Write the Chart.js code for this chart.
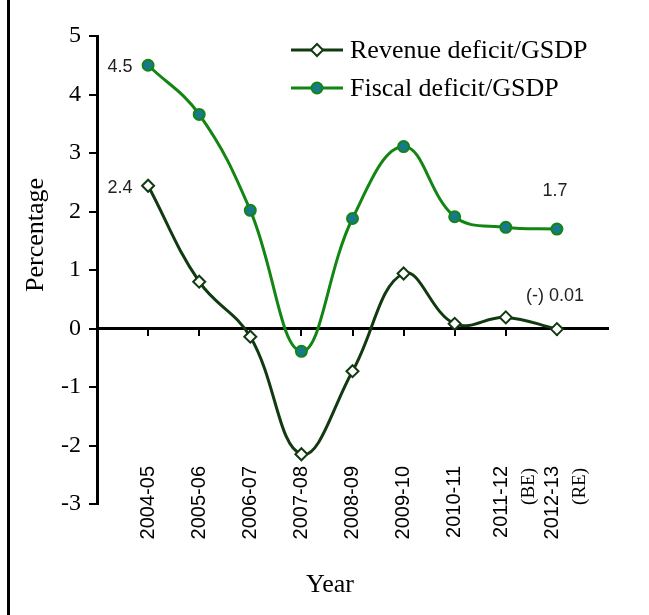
<!DOCTYPE html>
<html lang="en">
<head>
    <meta charset="UTF-8">
    <title>Revenue and Fiscal Deficit as Percentage of GSDP</title>
    <script src="https://cdn.jsdelivr.net/npm/chart.js@4.4.1/dist/chart.umd.min.js"></script>
    <style>
        html, body { margin: 0; padding: 0; background: #fff; }
        #wrap { width: 649px; height: 615px; }
    </style>
</head>
<body>

<div id="wrap">
    <canvas id="myChart" width="649" height="615" role="img" aria-label="Revenue and fiscal deficit as percentage of GSDP"></canvas>
</div>

<script>
    // data
    var years = ['2004-05', '2005-06', '2006-07', '2007-08', '2008-09', '2009-10', '2010-11', '2011-12', '2012-13'];
    var yearNotes = ['', '', '', '', '', '', '', '(BE)', '(RE)'];
    var revenueDeficit = [2.44, 0.80, -0.14, -2.15, -0.73, 0.94, 0.08, 0.19, -0.01];
    var fiscalDeficit = [4.50, 3.66, 2.02, -0.39, 1.88, 3.11, 1.91, 1.73, 1.70];
    var revenueNotes = ['2.4', '', '', '', '', '', '', '', '(-) 0.01'];
    var fiscalNotes = ['4.5', '', '', '', '', '', '', '', '1.7'];
    var yMin = -3, yMax = 5;

    var revColor = '#113a11';
    var fisColor = '#138513';
    var fisFill = '#17798a';

    function toPoints(arr) {
        return arr.map(function (v, i) { return { x: i, y: v }; });
    }

    var extras = {
        id: 'extras',
        afterDraw: function (chart) {
            var ctx = chart.ctx;
            var xs = chart.scales.x;
            ctx.save();

            // left frame line
            ctx.fillStyle = '#000';
            ctx.fillRect(7, 0, 3, 615);

            // axis titles
            ctx.fillStyle = '#000';
            ctx.font = '26px "Liberation Serif"';
            ctx.textAlign = 'center';
            ctx.textBaseline = 'middle';
            ctx.fillText('Year', 330, 585);
            ctx.save();
            ctx.translate(36, 235);
            ctx.rotate(-Math.PI / 2);
            ctx.fillText('Percentage', 0, 0);
            ctx.restore();

            // category labels, rotated
            for (var i = 0; i < years.length; i++) {
                var px = xs.getPixelForValue(i);
                var shift = yearNotes[i] ? -4 : 0;
                ctx.save();
                ctx.translate(px + shift, 466);
                ctx.rotate(-Math.PI / 2);
                ctx.textAlign = 'right';
                ctx.textBaseline = 'middle';
                ctx.font = '20px "Liberation Sans"';
                ctx.fillText(years[i], 0, 0);
                if (yearNotes[i]) {
                    ctx.font = '19px "Liberation Serif"';
                    ctx.fillText(yearNotes[i], -2, 27);
                }
                ctx.restore();
            }

            // value notes
            ctx.font = '18px "Liberation Sans"';
            ctx.fillStyle = '#222';
            ctx.textAlign = 'center';
            ctx.textBaseline = 'middle';
            [[0, revenueNotes], [1, fiscalNotes]].forEach(function (pair) {
                var meta = chart.getDatasetMeta(pair[0]);
                pair[1].forEach(function (txt, j) {
                    if (!txt) return;
                    var el = meta.data[j];
                    if (j === 0) {
                        ctx.fillText(txt, el.x - 28, el.y + 2);
                    } else {
                        ctx.fillText(txt, el.x - 2, el.y - (pair[0] === 0 ? 33 : 38));
                    }
                });
            });

            // legend
            var items = [
                { label: 'Revenue deficit/GSDP', ds: chart.data.datasets[0], y: 50 },
                { label: 'Fiscal deficit/GSDP', ds: chart.data.datasets[1], y: 88 }
            ];
            items.forEach(function (it) {
                ctx.strokeStyle = it.ds.borderColor;
                ctx.lineWidth = 3;
                ctx.beginPath();
                ctx.moveTo(291, it.y);
                ctx.lineTo(343, it.y);
                ctx.stroke();
                ctx.fillStyle = it.ds.pointBackgroundColor;
                ctx.strokeStyle = it.ds.pointBorderColor;
                ctx.lineWidth = it.ds.pointBorderWidth;
                Chart.helpers.drawPoint(ctx, {
                    pointStyle: it.ds.pointStyle,
                    radius: it.ds.pointRadius,
                    borderWidth: it.ds.pointBorderWidth,
                    rotation: 0
                }, 317, it.y);
                ctx.fillStyle = '#000';
                ctx.font = '26px "Liberation Serif"';
                ctx.textAlign = 'left';
                ctx.textBaseline = 'middle';
                ctx.fillText(it.label, 350, it.y + 1);
            });

            ctx.restore();
        }
    };

    var ctx = document.getElementById('myChart').getContext('2d');
    var myChart = new Chart(ctx, {
        type: 'line',
        data: {
            datasets: [
                {
                    label: 'Revenue deficit/GSDP',
                    data: toPoints(revenueDeficit),
                    borderColor: revColor,
                    borderWidth: 3,
                    tension: 0.4,
                    pointStyle: 'rectRot',
                    pointRadius: 6,
                    pointBorderWidth: 2,
                    pointBackgroundColor: '#ffffff',
                    pointBorderColor: revColor
                },
                {
                    label: 'Fiscal deficit/GSDP',
                    data: toPoints(fiscalDeficit),
                    borderColor: fisColor,
                    borderWidth: 3,
                    tension: 0.4,
                    pointStyle: 'circle',
                    pointRadius: 5.5,
                    pointBorderWidth: 2,
                    pointBackgroundColor: fisFill,
                    pointBorderColor: fisColor
                }
            ]
        },
        options: {
            responsive: false,
            animation: false,
            devicePixelRatio: 1,
            layout: { padding: { left: 0, top: 36, right: 41, bottom: 111 } },
            plugins: {
                legend: { display: false },
                tooltip: { enabled: false }
            },
            scales: {
                x: {
                    type: 'linear',
                    position: { y: 0 },
                    min: -1,
                    max: years.length,
                    ticks: { display: false, stepSize: 1 },
                    border: { display: true, color: '#000', width: 3 },
                    grid: {
                        drawOnChartArea: false,
                        drawTicks: true,
                        tickLength: 6,
                        lineWidth: 2,
                        color: function (c) {
                            var v = c.tick ? c.tick.value : 0;
                            return (v < 0 || v >= years.length) ? 'rgba(0,0,0,0)' : '#000';
                        }
                    }
                },
                y: {
                    min: yMin,
                    max: yMax,
                    afterFit: function (scale) { scale.width = 97; },
                    ticks: {
                        stepSize: 1,
                        color: '#000',
                        padding: 8,
                        font: { family: 'Liberation Serif', size: 24 }
                    },
                    border: { display: true, color: '#000', width: 3 },
                    grid: {
                        drawOnChartArea: false,
                        drawTicks: true,
                        tickLength: 8,
                        lineWidth: 2,
                        color: '#000'
                    }
                }
            }
        },
        plugins: [extras]
    });
</script>

</body>
</html>
